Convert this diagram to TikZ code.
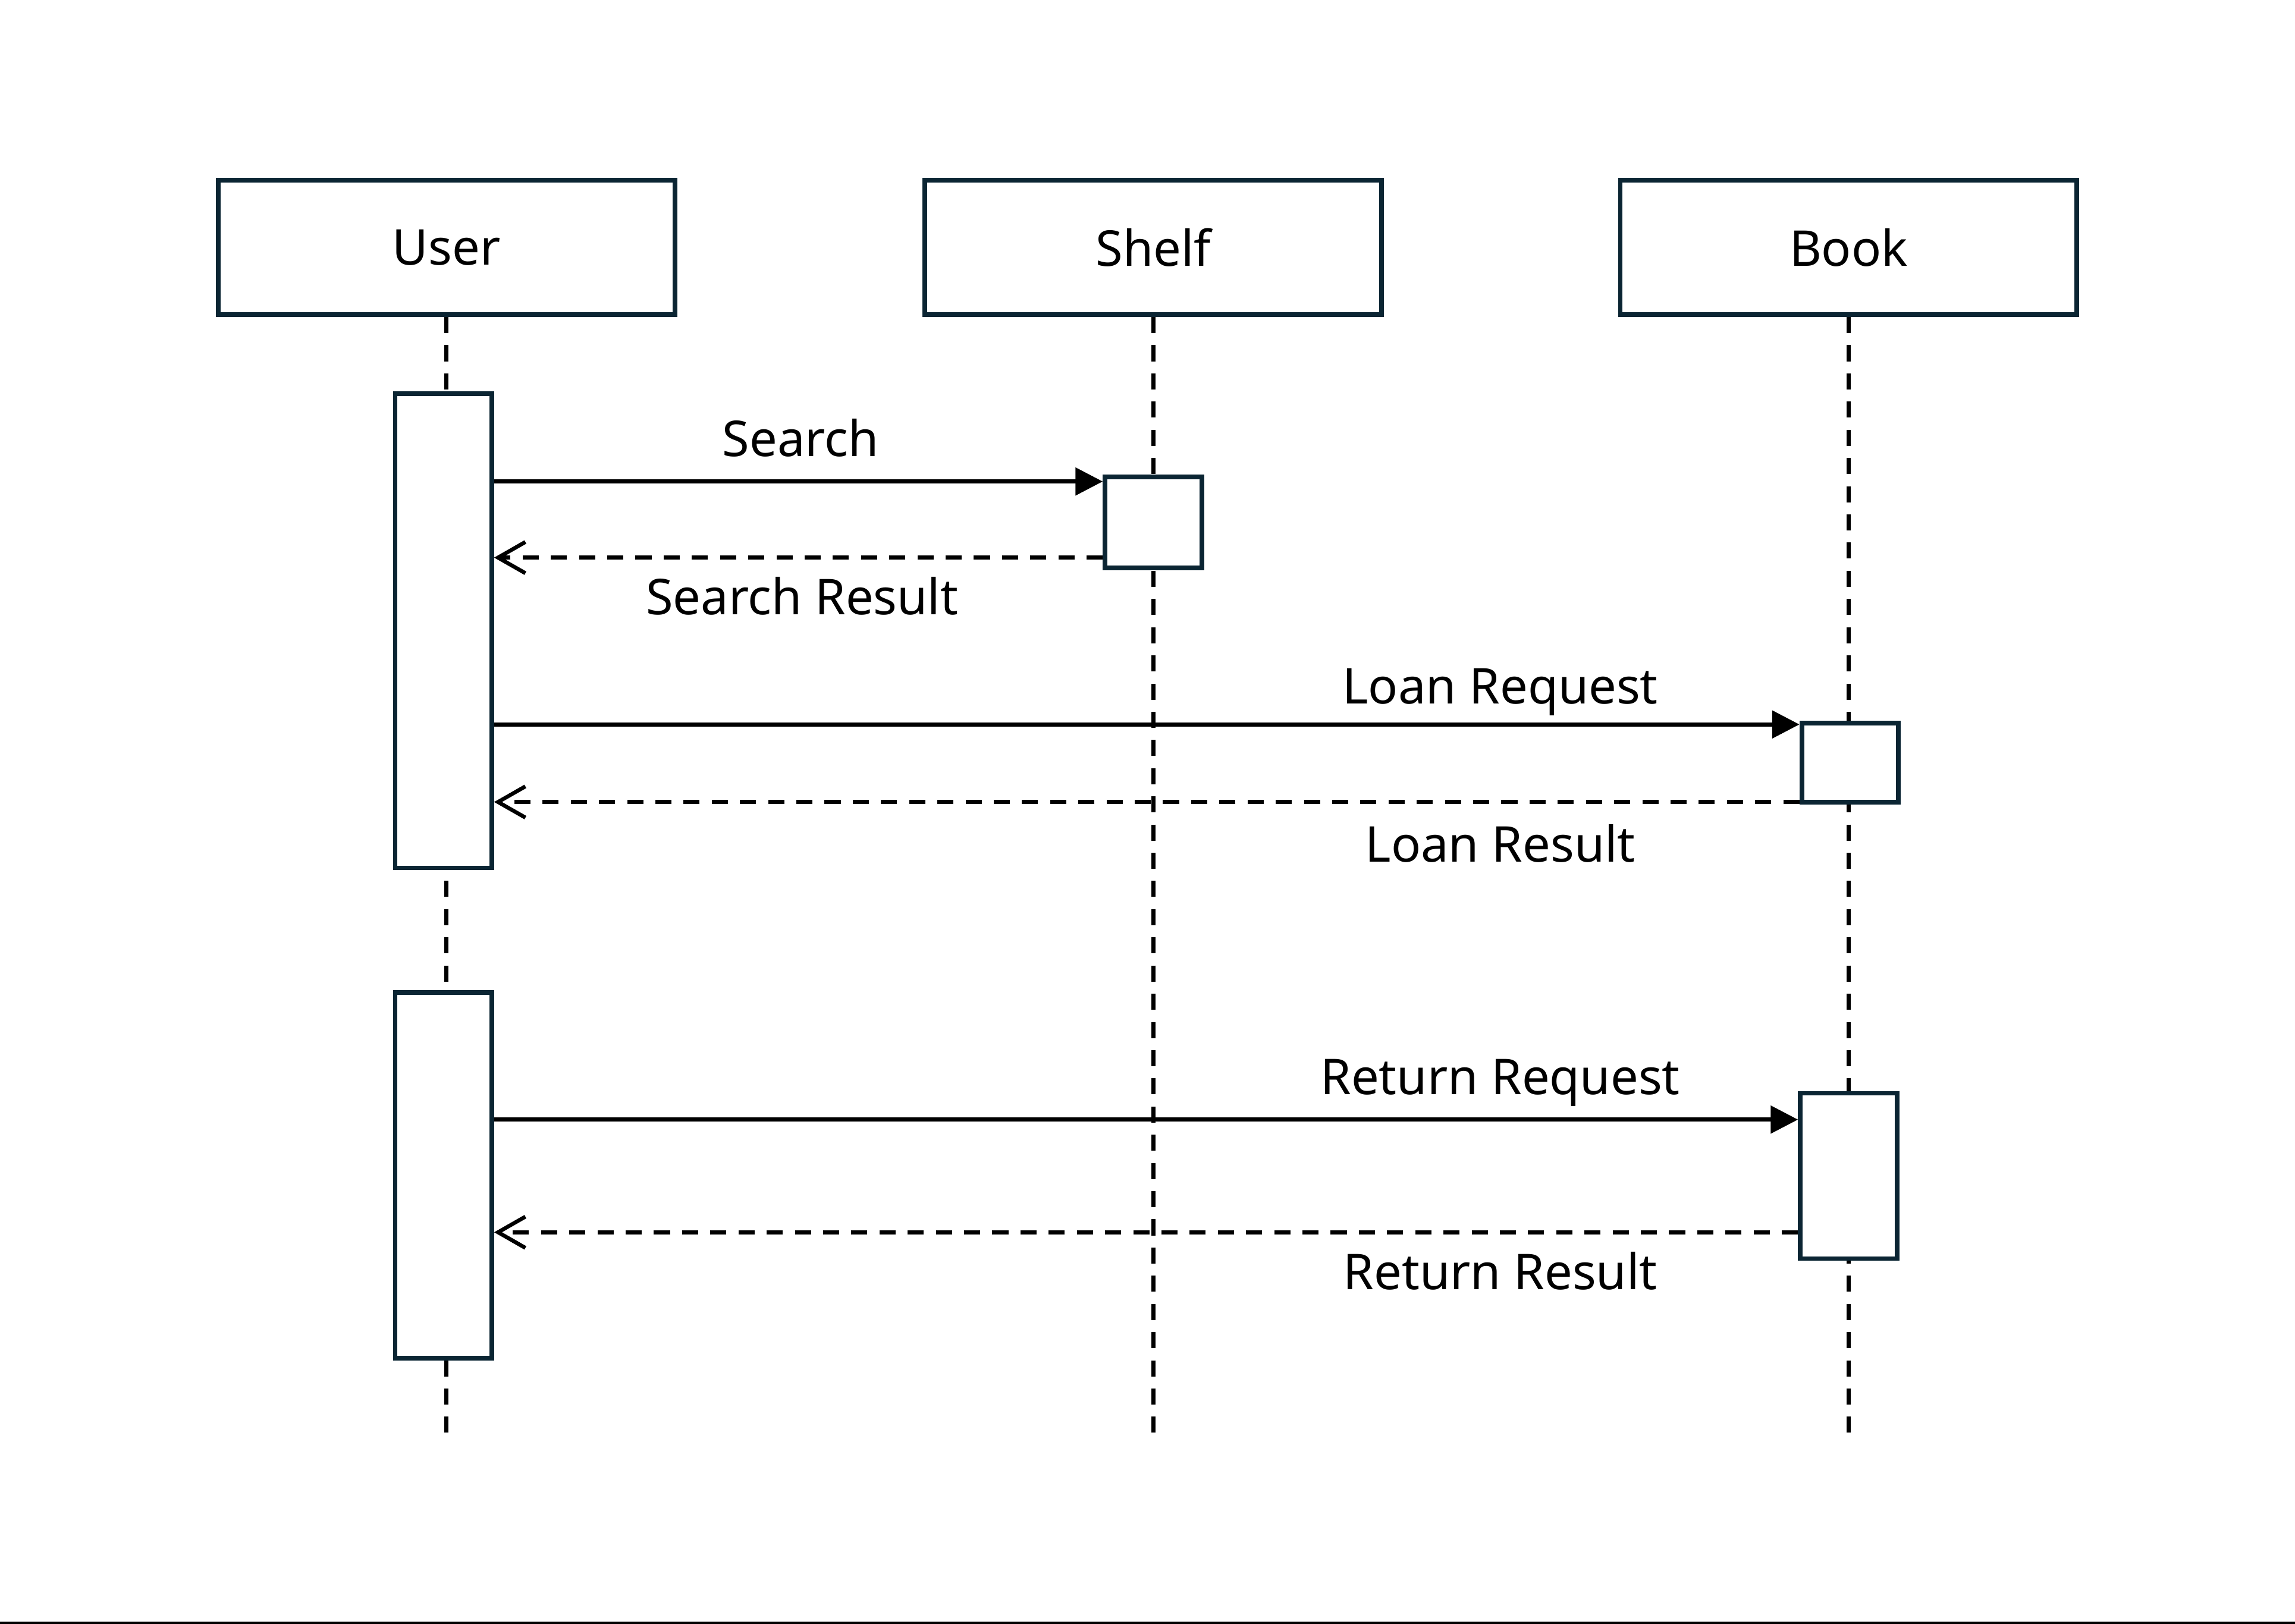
\documentclass[tikz,border=0pt]{standalone}
\usepackage{fontspec}
\setmainfont{Noto Sans}
\usetikzlibrary{arrows.meta}

\definecolor{boxline}{HTML}{0B2533}
\tikzset{every picture/.style={line width=2pt}}
\tikzset{
  headbox/.style={draw=boxline, line width=2.4pt, fill=white, minimum width=234pt, minimum height=69pt, inner sep=0pt, font=\fontsize{25.3}{30}\selectfont},
  actbox/.style={draw=boxline, line width=2.4pt, fill=white, minimum width=49.5pt, inner sep=0pt},
  lifeline/.style={dash pattern=on 8.25pt off 6.2pt},
  callmsg/.style={-{Triangle[length=14pt,width=14pt]}},
  replymsg/.style={dash pattern=on 8.25pt off 6.2pt, -{Straight Barb[length=14pt,width=16pt]}},
  msglabel/.style={anchor=base, inner sep=0.75pt, font=\fontsize{25.3}{30}\selectfont}
}

\begin{document}
\begin{tikzpicture}[x=0.75pt,y=0.75pt,yscale=-1,xscale=1]
\useasboundingbox (0,0) rectangle (1568,1109.6);

% bottom edge
\fill (0,1108) rectangle (1568,1109.6);

%Lifeline heads
\node (user) at (305,169) [headbox] {User};
\node (shelf) at (788,169) [headbox] {Shelf};
\node (book) at (1263,169) [headbox] {Book};

%Lifelines
\coordinate (userEnd) at (305,986);
\coordinate (shelfEnd) at (788,986);
\coordinate (bookEnd) at (1263,981);
\draw [lifeline] (user.south) -- (userEnd);
\draw [lifeline] (shelf.south) -- (shelfEnd);
\draw [lifeline] (book.south) -- (bookEnd);

%Activation boxes
\node (userActA) at (303,431) [actbox, minimum height=243pt] {};
\node (userActB) at (303,803) [actbox, minimum height=187.5pt] {};
\node (shelfAct) at (788,357) [actbox, minimum height=46.5pt] {};
\node (bookActA) at (1264,521) [actbox, minimum height=40.5pt] {};
\node (bookActB) at (1263,803.5) [actbox, minimum height=84.75pt] {};

%Messages
\coordinate (searchY) at (0,329);
\coordinate (searchResY) at (0,381);
\coordinate (loanY) at (0,495);
\coordinate (loanResY) at (0,548);
\coordinate (returnY) at (0,765);
\coordinate (returnResY) at (0,842);
\draw [callmsg] (userActA.east |- searchY) -- (shelfAct.west |- searchY);
\draw [replymsg] (shelfAct.west |- searchResY) -- (userActA.east |- searchResY);
\draw [callmsg] (userActA.east |- loanY) -- (bookActA.west |- loanY);
\draw [replymsg] (bookActA.west |- loanResY) -- (userActA.east |- loanResY);
\draw [callmsg] (userActB.east |- returnY) -- (bookActB.west |- returnY);
\draw [replymsg] (bookActB.west |- returnResY) -- (userActB.east |- returnResY);

% Text Node
\draw (547,312) node (searchLbl) [msglabel] {Search};
% Text Node
\draw (548,420) node (searchResLbl) [msglabel] {Search Result};
% Text Node
\draw (1025,481) node (loanLbl) [msglabel] {Loan Request};
% Text Node
\draw (1025,589) node (loanResLbl) [msglabel] {Loan Result};
% Text Node
\draw (1025,748) node (returnLbl) [msglabel] {Return Request};
% Text Node
\draw (1025,881) node (returnResLbl) [msglabel] {Return Result};

\end{tikzpicture}
\end{document}
